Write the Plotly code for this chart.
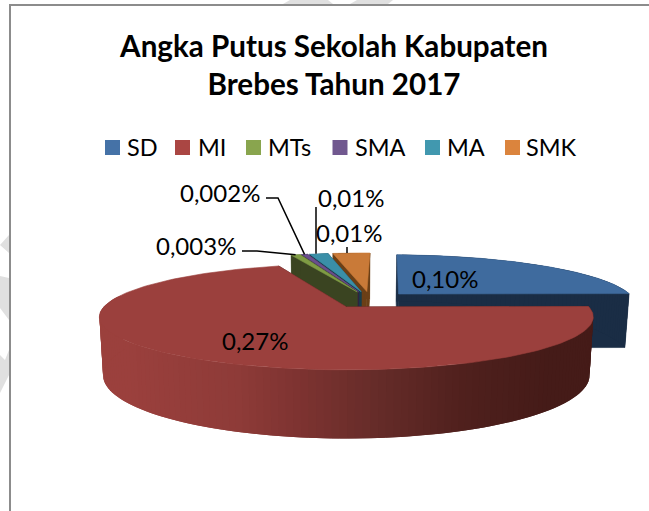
import math
import plotly.graph_objects as go

# ---- data ----
categories = ["SD", "MI", "MTs", "SMA", "MA", "SMK"]
values = [0.096, 0.2749, 0.003, 0.002, 0.006, 0.012]
value_labels = ["0,10%", "0,27%", "0,003%", "0,002%", "0,01%", "0,01%"]
top_colors = ["#3f6b9e", "#9b403d", "#7f9c44", "#6a4f8c", "#3a8fa8", "#c97a38"]
wall_colors = ["#1a2d45", "#451b18", "#3a4421", "#2f2440", "#173d4b", "#6b3f16"]
legend_colors = ["#4572a7", "#aa4643", "#89a54e", "#71588f", "#4198af", "#db843d"]
title_text = "Angka Putus Sekolah Kabupaten<br>Brebes Tahun 2017"

# ---- projection of the 3-D pie onto the page ----
FONT = "Lato"
W, H = 649, 511
FIRST_ANGLE = 271.8
EXPLODE = 0.175
CENTER = (0.098, -0.145)
CX, CY, A, B, P, DEPTH, SHRINK = 347.0, 307.0, 242.6, 51.1, 0.1887, 56.5, 0.015


def proj(X, Y, z=0):
    w = 1 - P * Y
    s = 1 - SHRINK * z
    return CX + A * s * X / w, CY + B * s * Y / w + z * DEPTH / w


total = sum(values)
slices = []
a0 = FIRST_ANGLE
for i, v in enumerate(values):
    a1 = a0 + 360 * v / total
    mid = math.radians((a0 + a1) / 2)
    ox = CENTER[0] + EXPLODE * math.cos(mid)
    oy = CENTER[1] + EXPLODE * math.sin(mid)
    slices.append(dict(i=i, a0=a0, a1=a1, mid=mid, ox=ox, oy=oy))
    a0 = a1


def rim(s, t):
    t = math.radians(t)
    return s["ox"] + math.cos(t), s["oy"] + math.sin(t)


def lerp_color(stops, x):
    if x <= stops[0][0]:
        return stops[0][1]
    for (x0, c0), (x1, c1) in zip(stops, stops[1:]):
        if x <= x1:
            f = (x - x0) / (x1 - x0)
            a = [int(c0[k:k + 2], 16) for k in (1, 3, 5)]
            b = [int(c1[k:k + 2], 16) for k in (1, 3, 5)]
            return "#%02x%02x%02x" % tuple(round(p + (q - p) * f) for p, q in zip(a, b))
    return stops[-1][1]


RED_SHADE = [(125, "#9b403d"), (240, "#8e3b38"), (300, "#7e3331"), (380, "#662c29"),
             (470, "#4f201d"), (550, "#451b18")]

fig = go.Figure()


def poly(points, color, name, stroke=0.6):
    xs = [p[0] for p in points] + [points[0][0]]
    ys = [p[1] for p in points] + [points[0][1]]
    fig.add_trace(go.Scatter(x=xs, y=ys, mode="lines", fill="toself", fillcolor=color,
                             line=dict(color=color, width=stroke), name=name, showlegend=False,
                             hoverinfo="name"))


# back-to-front painting order
for idx in [5, 4, 3, 2, 0, 1]:
    s = slices[idx]
    name = categories[idx]
    wall = wall_colors[idx]
    top = top_colors[idx]
    ox, oy = s["ox"], s["oy"]
    apex_t, apex_b = proj(ox, oy, 0), proj(ox, oy, 1)
    # radial walls
    for ang in (s["a0"], s["a1"]):
        X, Y = rim(s, ang)
        poly([apex_t, proj(X, Y, 0), proj(X, Y, 1), apex_b], wall, name)
    # outer wall: only the part facing the viewer needs painting
    span = s["a1"] - s["a0"]
    n = max(2, int(span / 1.5))
    angles = [s["a0"] + span * k / n for k in range(n + 1)]
    for k in range(n):
        t0, t1 = angles[k], angles[min(k + 2, n)]
        if idx == 1 and math.sin(math.radians(t0)) < -0.2:
            continue
        X0, Y0 = rim(s, t0)
        c = lerp_color(RED_SHADE, proj(X0, Y0)[0]) if idx == 1 else wall
        arc = [t0, (t0 + t1) / 2, t1]
        pts_top = [proj(*rim(s, t), 0) for t in arc]
        pts_bot = [proj(*rim(s, t), 1) for t in reversed(arc)]
        poly(pts_top + pts_bot, c, name, stroke=0)
    # top face
    fine = [s["a0"] + span * k / 160 for k in range(161)]
    poly([apex_t] + [proj(*rim(s, t)) for t in fine], top, name)

# leader lines: label anchor -> elbow -> rim of the slice
leaders = {2: [(242, 251), (257, 251)], 3: [(266, 198), (278, 198)], 4: [(316, 207), (316, 212)],
           5: [(347, 247), (347, 249)]}
for idx, pts in leaders.items():
    s = slices[idx]
    end = proj(*rim(s, math.degrees(s["mid"])))
    end = (pts[-1][0], end[1]) if idx in (4, 5) else end
    fig.add_trace(go.Scatter(x=[p[0] for p in pts] + [end[0]], y=[p[1] for p in pts] + [end[1]],
                             mode="lines", line=dict(color="#000000", width=1.5),
                             showlegend=False, hoverinfo="skip"))

# value labels
label_pos = {0: (445, 278), 1: (255, 340), 2: (219, 192), 3: (220, 192), 4: (351, 197), 5: (349, 232)}
label_pos[2] = (196, 245)
annotations = []
for i, txt in enumerate(value_labels):
    x, y = label_pos[i]
    annotations.append(dict(x=x, y=y, xref="x", yref="y", text=txt, showarrow=False,
                            font=dict(family=FONT, size=24, color="#000000"),
                            xanchor="center", yanchor="middle"))

# legend row
legend_swatch_x = [112.5, 182.5, 253.5, 340, 432.5, 512.5]
legend_text_x = [127, 198, 268, 355, 447, 526]
LEG_Y = 147
for i, c in enumerate(categories):
    fig.add_trace(go.Scatter(x=[legend_swatch_x[i]], y=[LEG_Y + 0.5], mode="markers", name=c,
                             marker=dict(symbol="square", size=15, color=legend_colors[i]),
                             showlegend=False, hoverinfo="name"))
    annotations.append(dict(x=legend_text_x[i], y=LEG_Y, xref="x", yref="y", text=c, showarrow=False,
                            font=dict(family=FONT, size=23.5, color="#000000"),
                            xanchor="left", yanchor="middle", xshift=-2))

# frame and background marks
shapes = [
    dict(type="path", path="M0,245 L9,235 L9,253 Z", fillcolor="#e0e0e0", line_width=0, layer="below"),
    dict(type="path", path="M0,276 L9,278 L9,320 L0,308 Z", fillcolor="#e0e0e0", line_width=0, layer="below"),
    dict(type="path", path="M0,355 L5,360 L9,350 L9,375 L0,393 Z", fillcolor="#e0e0e0", line_width=0, layer="below"),
    dict(type="path", path="M283,4 L290,0 L328,0 L333,4 Z", fillcolor="#e0e0e0", line_width=0, layer="below"),
    dict(type="path", path="M350,4 L357,0 L393,0 L388,4 Z", fillcolor="#e0e0e0", line_width=0, layer="below"),
    dict(type="line", x0=10, x1=10, y0=5, y1=511, line=dict(color="#8c8c8c", width=2), layer="below"),
    dict(type="line", x0=9, x1=649, y0=5, y1=5, line=dict(color="#8c8c8c", width=2), layer="below"),
]

fig.update_layout(
    width=W, height=H, margin=dict(l=0, r=0, t=0, b=0, pad=0),
    paper_bgcolor="#ffffff", plot_bgcolor="#ffffff", showlegend=False,
    title=dict(text=title_text, x=334 / W, xanchor="center", y=1 - 57 / H, yanchor="middle",
               font=dict(family=FONT, size=29.6, color="#000000", weight="bold")),
    xaxis=dict(range=[0, W], visible=False, fixedrange=True),
    yaxis=dict(range=[H, 0], visible=False, fixedrange=True),
    annotations=annotations, shapes=shapes,
)
fig.write_html("out.html", config={"displayModeBar": False},
               post_script="document.body.style.margin='0';document.body.style.overflow='hidden';")
